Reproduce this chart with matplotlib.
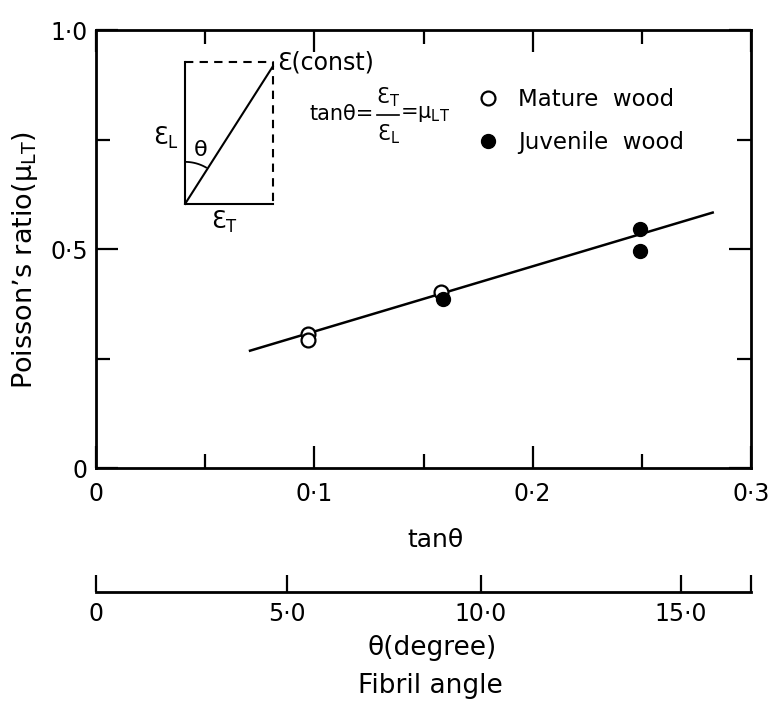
import numpy as np
import matplotlib
matplotlib.use("Agg")
import matplotlib.pyplot as plt
from matplotlib.ticker import FixedLocator

plt.rcParams["font.family"] = ["DejaVu Sans"]
plt.rcParams["mathtext.fontset"] = "dejavusans"

# Poisson's ratio against tan(theta) of the fibril angle
mature_tan = [0.097, 0.097, 0.158]
mature_mu = [0.305, 0.292, 0.402]
juvenile_tan = [0.159, 0.249, 0.249]
juvenile_mu = [0.386, 0.545, 0.495]

# end points of the fitted straight line
fit_tan = [0.070, 0.283]
fit_mu = [0.267, 0.584]

x_ticks = [0, 0.1, 0.2, 0.3]
x_tick_labels = ["0", "0·1", "0·2", "0·3"]
x_minor = [0.05, 0.15, 0.25]
y_ticks = [0, 0.5, 1.0]
y_tick_labels = ["0", "0·5", "1·0"]
y_minor = [0.25, 0.75]
deg_ticks = [0, 5, 10, 15]
deg_tick_labels = ["0", "5·0", "10·0", "15·0"]

W, H = 769, 706
fig = plt.figure(figsize=(W / 100, H / 100), dpi=100)
left, right, top, bottom = 96, 751, 30, 468
ax = fig.add_axes([left / W, 1 - bottom / H, (right - left) / W, (bottom - top) / H])

ax.plot(fit_tan, fit_mu, color="black", lw=1.8, solid_capstyle="butt")
ax.plot(mature_tan, mature_mu, "o", mfc="white", mec="black", ms=10, mew=1.6)
ax.plot(juvenile_tan, juvenile_mu, "o", mfc="black", mec="black", ms=10)

ax.set_xlim(0, 0.3)
ax.set_ylim(0, 1.0)
ax.set_xticks(x_ticks, x_tick_labels, fontsize=17)
ax.set_yticks(y_ticks, y_tick_labels, fontsize=17)
ax.xaxis.set_minor_locator(FixedLocator(x_minor))
ax.yaxis.set_minor_locator(FixedLocator(y_minor))
ax.tick_params(which="both", direction="in", top=True, right=True, width=1.6)
ax.tick_params(which="major", length=16)
ax.tick_params(which="minor", length=10)
ax.tick_params(axis="x", which="major", pad=10)
ax.tick_params(axis="y", which="major", pad=6)
for s in ax.spines.values():
    s.set_linewidth(2.0)

# strain diagram in the upper left corner
tr = ax.transAxes
bx0, bx1, by0, by1 = 0.136, 0.270, 0.603, 0.927
ax.plot([bx0, bx0, bx1], [by1, by0, by0], color="black", lw=1.5, transform=tr)
ax.plot([bx0, bx1, bx1], [by1, by1, by0], color="black", lw=1.5, ls=(0, (4, 3)), transform=tr)
ax.plot([bx0, bx1], [by0, by1 - 0.01], color="black", lw=1.5, transform=tr)
ang = np.radians(np.linspace(60, 90, 20))
ax.plot(bx0 + 42 * np.cos(ang) / (right - left), by0 + 42 * np.sin(ang) / (bottom - top),
        color="black", lw=1.3, transform=tr)
ax.text(0.276, 0.925, "Ɛ(const)", fontsize=17, ha="left", va="center", transform=tr)
ax.text(0.107, 0.753, r"Ɛ$\mathregular{_L}$", fontsize=17, ha="center", va="center", transform=tr)
ax.text(0.160, 0.726, "θ", fontsize=16, ha="center", va="center", transform=tr)
ax.text(0.196, 0.563, r"Ɛ$\mathregular{_T}$", fontsize=17, ha="center", va="center", transform=tr)


def px(xp, yp):
    # figure pixel position to axes fraction
    return (xp - left) / (right - left), (bottom - yp) / (bottom - top)


# tan(theta) = eT / eL = mu_LT
ax.text(*px(310, 114), "tanθ=", fontsize=15, ha="left", va="center", transform=tr)
ax.text(*px(388, 97), r"Ɛ$\mathregular{_T}$", fontsize=15, ha="center", va="center", transform=tr)
ax.text(*px(388, 134), r"Ɛ$\mathregular{_L}$", fontsize=15, ha="center", va="center", transform=tr)
bar_a, bar_b = px(377, 115), px(399, 115)
ax.plot([bar_a[0], bar_b[0]], [bar_a[1], bar_b[1]], color="black", lw=1.2, transform=tr)
ax.text(*px(400, 114), r"=$\mathregular{\mu_{LT}}$", fontsize=15, ha="left", va="center",
        transform=tr)

# legend
ax.plot([], [], "o", mfc="white", mec="black", ms=10, mew=1.6, label="Mature  wood")
ax.plot([], [], "o", mfc="black", mec="black", ms=10, label="Juvenile  wood")
handles, labels = ax.get_legend_handles_labels()
ax.legend(handles[-2:], labels[-2:], loc="upper left", bbox_to_anchor=(0.567, 0.888),
          frameon=False, fontsize=16.5, handlelength=1.0, handletextpad=0.8, labelspacing=0.85,
          borderaxespad=0)

fig.text(25 / W, 1 - 260 / H, r"Poisson’s ratio($\mathregular{\mu_{LT}}$)", fontsize=19.5,
         rotation=90, ha="center", va="center")
fig.text(436 / W, 1 - 540 / H, "tanθ", fontsize=18, ha="center", va="center")

# fibril angle scale underneath, spaced as tan(theta)
ax2 = fig.add_axes([left / W, 1 - 592 / H, (right - left) / W, 0.02])
ax2.set_xlim(0, 0.3)
ax2.set_ylim(0, 1)
ax2.set_xticks(list(np.tan(np.radians(deg_ticks))) + [0.3], deg_tick_labels + [""], fontsize=17)
ax2.set_yticks([])
for side in ["left", "right", "top"]:
    ax2.spines[side].set_visible(False)
ax2.spines["bottom"].set_linewidth(2.0)
ax2.tick_params(direction="in", length=12, width=1.6, pad=7)
ax2.patch.set_visible(False)

fig.text(432 / W, 1 - 648 / H, "θ(degree)", fontsize=19, ha="center", va="center")
fig.text(430 / W, 1 - 686 / H, "Fibril angle", fontsize=19, ha="center", va="center")

fig.savefig("out.png", dpi=100)
